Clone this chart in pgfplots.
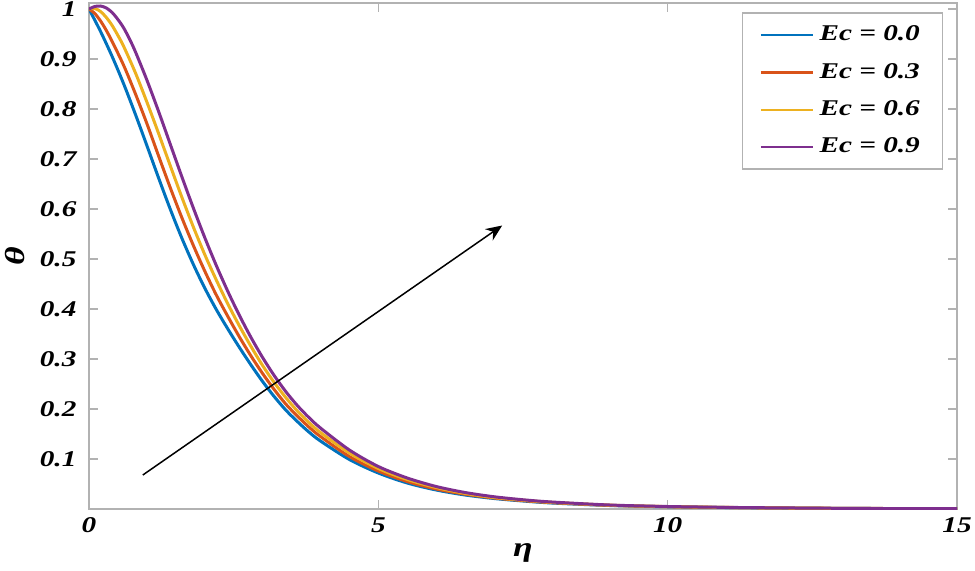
\documentclass[border=0pt]{standalone}
\usepackage{fontspec}
\setmainfont{Liberation Serif}
\newfontfamily\labfont{Liberation Serif}[FakeStretch=1.3]
\usepackage{pgfplots}
\pgfplotsset{compat=1.18}
\usetikzlibrary{arrows.meta}

\definecolor{mblue}{rgb}{0,0.447,0.741}
\definecolor{mred}{rgb}{0.85,0.325,0.098}
\definecolor{mgold}{rgb}{0.929,0.694,0.125}
\definecolor{mpurple}{rgb}{0.494,0.184,0.556}

\begin{document}
\begin{tikzpicture}
\begin{axis}[
 scale only axis,
 width=347.2pt, height=202.4pt,
 xmin=0, xmax=15, ymin=0, ymax=1.012,
 xtick={0,5,10,15},
 ytick={0.1,0.2,0.3,0.4,0.5,0.6,0.7,0.8,0.9,1},
 yticklabels={0.1,0.2,0.3,0.4,0.5,0.6,0.7,0.8,0.9,1},
 /pgf/number format/assume math mode=true,
 ticklabel style={font=\labfont\bfseries\itshape\fontsize{9}{10}\selectfont},
 yticklabel style={xshift=-1.5pt},
 tick align=inside,
 major tick length=3.5pt,
 axis line style={gray!60, line width=0.8pt},
 tick style={gray!60, line width=0.6pt},
 xlabel={\labfont\bfseries\itshape η},
 ylabel={\labfont\bfseries\itshape θ},
 label style={font=\fontsize{11}{12}\selectfont},
 xlabel style={at={(axis description cs:0.5,-0.087)}, anchor=center},
 ylabel style={at={(axis description cs:-0.085,0.5)}, anchor=center},
 legend style={at={(0.984,0.982)}, anchor=north east,
   font=\labfont\bfseries\itshape\fontsize{9}{10}\selectfont,
   draw=gray!60, line width=0.6pt, inner xsep=7pt, inner ysep=3.2pt,
   row sep=3.4pt},
 legend cell align=left,
 legend image code/.code={\draw[#1, line width=0.9pt] (0pt,0pt) -- (21pt,0pt);},
 every axis plot/.append style={line width=1.2pt},
]
\addplot[mblue, smooth] coordinates {
 (0,1.000) (0.2,0.955) (0.4,0.905) (0.6,0.850) (0.8,0.790) (1.0,0.727)
 (1.2,0.663) (1.4,0.601) (1.6,0.543) (1.8,0.490) (2.0,0.442) (2.2,0.399)
 (2.4,0.360) (2.6,0.323) (2.8,0.288) (3.0,0.255) (3.2,0.225) (3.4,0.198)
 (3.6,0.175) (3.8,0.154) (4.0,0.136) (4.5,0.099) (5,0.072) (5.5,0.052)
 (6,0.038) (6.5,0.028) (7,0.021) (7.5,0.016) (8,0.012) (9,0.007)
 (10,0.0045) (11,0.003) (12,0.002) (13,0.0013) (14,0.0008) (15,0.0005)};
\addplot[mred, smooth] coordinates {
 (0,1.000) (0.1,0.991) (0.2,0.976) (0.3,0.957) (0.4,0.935) (0.6,0.887)
 (0.8,0.831) (1.0,0.771) (1.2,0.707) (1.4,0.644) (1.6,0.584) (1.8,0.528)
 (2.0,0.476) (2.2,0.428) (2.4,0.385) (2.6,0.344) (2.8,0.306) (3.0,0.271)
 (3.2,0.239) (3.4,0.210) (3.6,0.186) (3.8,0.164) (4.0,0.145) (4.5,0.105)
 (5,0.076) (5.5,0.055) (6,0.040) (6.5,0.0297) (7,0.022) (7.5,0.0168)
 (8,0.0127) (9,0.0073) (10,0.0047) (11,0.0031) (12,0.0021) (13,0.0013)
 (14,0.0008) (15,0.0005)};
\addplot[mgold, smooth] coordinates {
 (0,1.000) (0.1,1.001) (0.2,0.995) (0.3,0.983) (0.4,0.967) (0.5,0.947) (0.6,0.925)
 (0.8,0.873) (1.0,0.814) (1.2,0.752) (1.4,0.688) (1.6,0.625) (1.8,0.565)
 (2.0,0.509) (2.2,0.458) (2.4,0.410) (2.6,0.366) (2.8,0.325) (3.0,0.287)
 (3.2,0.253) (3.4,0.223) (3.6,0.196) (3.8,0.173) (4.0,0.153) (4.5,0.112)
 (5,0.081) (5.5,0.059) (6,0.043) (6.5,0.0313) (7,0.023) (7.5,0.0177)
 (8,0.0133) (9,0.0077) (10,0.0048) (11,0.0032) (12,0.0021) (13,0.0014)
 (14,0.0009) (15,0.0006)};
\addplot[mpurple, smooth] coordinates {
 (0,1.000) (0.1,1.005) (0.2,1.006) (0.3,1.002) (0.4,0.993) (0.5,0.979) (0.6,0.962)
 (0.7,0.940) (0.8,0.915) (1.0,0.858) (1.2,0.796) (1.4,0.731) (1.6,0.666) (1.8,0.603)
 (2.0,0.543) (2.2,0.487) (2.4,0.435) (2.6,0.387) (2.8,0.343) (3.0,0.303)
 (3.2,0.267) (3.4,0.235) (3.6,0.207) (3.8,0.183) (4.0,0.162) (4.5,0.118)
 (5,0.085) (5.5,0.062) (6,0.045) (6.5,0.033) (7,0.0245) (7.5,0.0185)
 (8,0.014) (9,0.008) (10,0.005) (11,0.0033) (12,0.0022) (13,0.0014)
 (14,0.0009) (15,0.0006)};
\legend{Ec = 0.0, Ec = 0.3, Ec = 0.6, Ec = 0.9}
\draw[-{Stealth[length=6.5pt,width=5.5pt]}, line width=0.6pt] (axis cs:0.93,0.068) -- (axis cs:7.14,0.567);
\end{axis}
\path (current axis.south west) ++(-35.6pt,-24.4pt) coordinate (bl);
\path (current axis.north east) ++(7.2pt,1.2pt) coordinate (tr);
\pgfresetboundingbox
\path[use as bounding box] (bl) rectangle (tr);
\end{tikzpicture}
\end{document}
